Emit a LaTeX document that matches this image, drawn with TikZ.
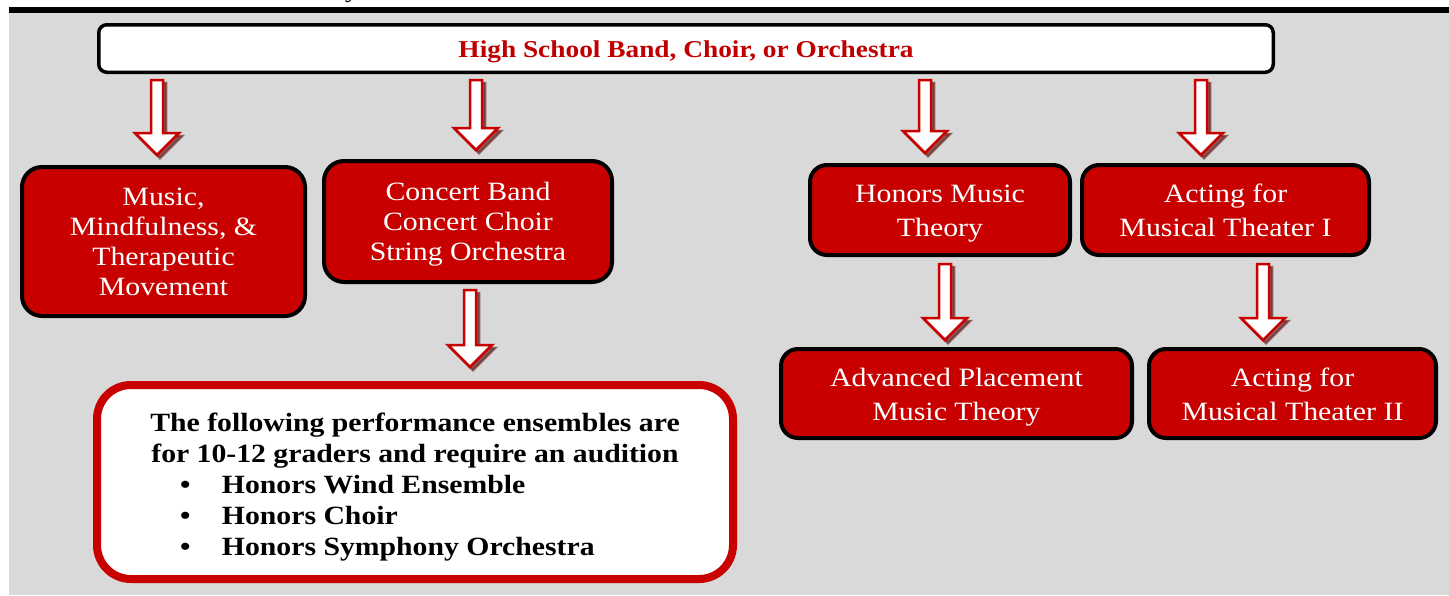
\documentclass[tikz,border=0pt]{standalone}
\usepackage{fontspec}
\setmainfont{Liberation Serif}[FakeStretch=1.13]
\usetikzlibrary{calc}
\definecolor{bgray}{HTML}{D9D9D9}
\definecolor{bred}{HTML}{C80000}
\definecolor{tred}{HTML}{C00000}
\definecolor{shadowc}{HTML}{6E2C2C}
\tikzset{
  redbox/.style={draw=black, line width=4pt, fill=bred, rounded corners=20pt,
    text=white, align=center, inner sep=0pt},
  spacing/.style={font=\fontsize{26.4}{#1}\selectfont},
  topbox/.style={draw=black, line width=3.5pt, fill=white, rounded corners=8pt,
    text=tred, inner sep=0pt, font=\fontsize{24.2}{28}\selectfont\bfseries},
  ensbox/.style={draw=bred, line width=8pt, fill=white, rounded corners=34pt,
    inner sep=0pt, font=\fontsize{26.3}{31}\selectfont\bfseries},
  arrbody/.style={draw=bred, fill=white, line width=2.5pt, line join=miter},
  arrshadow/.style={draw=shadowc, fill=shadowc, line width=2.5pt, opacity=0.7},
}
\newcommand\lowered[2]{\raisebox{-#1}[\height][\depth]{#2}}
\newcommand\boxtext[1]{\lowered{3pt}{\begin{tabular}{@{}c@{}}#1\end{tabular}}}
% style, dx, dy, x, from, to, gap at start, gap at end
\newcommand\arrshape[8]{%
  \path[#1] let \p1=(#4,0 |- #5.south), \p2=(#4,0 |- #6.north) in
    ({\x1+#2pt-6pt},{\y1-#7pt+#3pt}) -- ({\x1+#2pt+6pt},{\y1-#7pt+#3pt})
    -- ({\x1+#2pt+6pt},{\y2+#8pt+22pt+#3pt}) -- ({\x1+#2pt+22pt},{\y2+#8pt+22pt+#3pt})
    -- ({\x1+#2pt},{\y2+#8pt+#3pt}) -- ({\x1+#2pt-22pt},{\y2+#8pt+22pt+#3pt})
    -- ({\x1+#2pt-6pt},{\y2+#8pt+22pt+#3pt}) -- cycle;}
\newcommand\fatarrow[5]{%
  \arrshape{arrshadow}{3}{-3}{#1}{#2}{#3}{#4}{#5}%
  \arrshape{arrbody}{0}{0}{#1}{#2}{#3}{#4}{#5}}
\begin{document}
\begin{tikzpicture}[x=1pt,y=-1pt]
  \useasboundingbox (0,0) rectangle (1449,595);
  \fill[white] (0,0) rectangle (1449,595);
  \fill[bgray] (9,13) rectangle (1449,595);
  \fill[black] (9,7) rectangle (1449,13);
  \begin{scope}
    \clip (0,0) rectangle (1449,7);
    \node[anchor=base, inner sep=0pt, font=\fontsize{24}{28}\selectfont] (frag) at (352,-3) {y};
  \end{scope}

  \node[topbox, minimum width=1174.5pt, minimum height=47.5pt] (top) at (686,48.5)
    {\lowered{3pt}{High School Band, Choir, or Orchestra}};

  \node[redbox, spacing=30, minimum width=283pt, minimum height=149pt] (b1) at (163.5,241.5)
    {\boxtext{Music,\\Mindfulness, \&\\Therapeutic\\Movement}};
  \node[redbox, spacing=30, minimum width=288pt, minimum height=121pt] (b2) at (468,221.5)
    {\boxtext{Concert Band\\Concert Choir\\String Orchestra}};
  \node[redbox, spacing=34, rounded corners=17pt, minimum width=260pt, minimum height=90pt] (b3) at (940,210)
    {\boxtext{Honors Music\\Theory}};
  \node[redbox, spacing=34, rounded corners=17pt, minimum width=287pt, minimum height=90pt] (b4) at (1225.5,210)
    {\boxtext{Acting for\\Musical Theater I}};
  \node[redbox, spacing=34, rounded corners=17pt, minimum width=351pt, minimum height=89pt] (b5) at (956.5,393.5)
    {\boxtext{Advanced Placement\\Music Theory}};
  \node[redbox, spacing=34, rounded corners=17pt, minimum width=287pt, minimum height=89pt] (b6) at (1292.5,393.5)
    {\boxtext{Acting for\\Musical Theater II}};

  \node[ensbox, minimum width=636pt, minimum height=194pt] (ens) at (415,482)
    {\lowered{5pt}{\parbox{560pt}{\centering The following performance ensembles are\\
      for 10-12 graders and require an audition\par
      \raggedright
      \hspace*{45pt}\makebox[42pt][l]{\textbullet}Honors Wind Ensemble\\
      \hspace*{45pt}\makebox[42pt][l]{\textbullet}Honors Choir\\
      \hspace*{45pt}\makebox[42pt][l]{\textbullet}Honors Symphony Orchestra}}};

  \fatarrow{157}{top}{b1}{6}{10}
  \fatarrow{476}{top}{b2}{6}{9}
  \fatarrow{925}{top}{b3}{6}{10}
  \fatarrow{1201}{top}{b4}{6}{8}
  \fatarrow{470}{b2}{ens}{6}{14}
  \fatarrow{945}{b3}{b5}{7}{7}
  \fatarrow{1263}{b4}{b6}{7}{7}
\end{tikzpicture}
\end{document}
